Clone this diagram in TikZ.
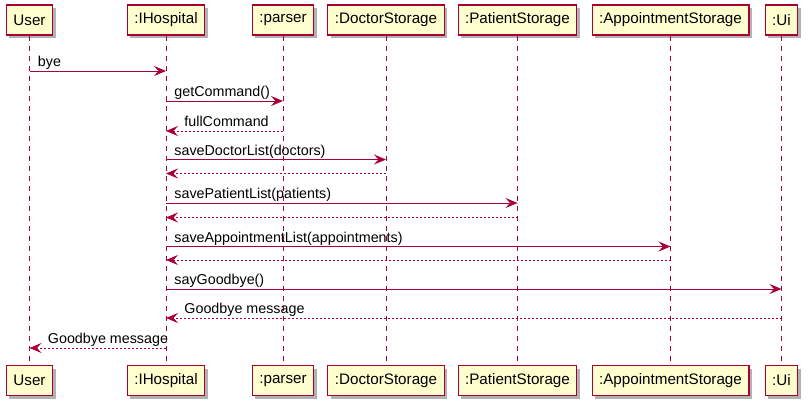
\documentclass[tikz,border=0pt]{standalone}
\usepackage{fontspec}
\setmainfont{Liberation Sans}
\usetikzlibrary{arrows.meta,shadows}
\definecolor{umlred}{HTML}{A80036}
\definecolor{umlfill}{HTML}{FEFECE}

\begin{document}
\begin{tikzpicture}[x=1pt,y=-1pt,
    actor/.style={draw=umlred,fill=umlfill,line width=1.2pt,
        minimum height=30pt,inner xsep=7pt,
        font={\fontsize{15.2}{18}\selectfont},
        drop shadow={shadow xshift=3pt,shadow yshift=-3pt,opacity=.3,fill=black}},
    life/.style={umlred,line width=.8pt,dash pattern=on 5pt off 5pt},
    msg/.style={umlred,line width=.9pt,
        -{Stealth[length=12pt,width=10pt,inset=4.5pt]}},
    reply/.style={msg,dash pattern=on 2pt off 2pt},
    lbl/.style={anchor=base west,inner sep=0pt,text=black,
        font={\fontsize{14.3}{16}\selectfont},xshift=8pt,yshift=4.5pt},
    rlbl/.style={lbl,xshift=10pt},
    ]
        \useasboundingbox (0,0) rectangle (809,408);
        % Participants (top)
        \node[actor] (user) at (29.5,20) {User};
        \node[actor] (hosp) at (166,20) {:IHospital};
        \node[actor] (parser) at (283,20) {:parser};
        \node[actor] (doctor) at (386,20) {:DoctorStorage};
        \node[actor] (patient) at (517.5,20) {:PatientStorage};
        \node[actor] (appt) at (670.5,20) {:AppointmentStorage};
        \node[actor] (ui) at (781.5,20) {:Ui};
        % Participants (bottom)
        \node[actor] (userB) at (29.5,380.5) {User};
        \node[actor] (hospB) at (166,380.5) {:IHospital};
        \node[actor] (parserB) at (283,380.5) {:parser};
        \node[actor] (doctorB) at (386,380.5) {:DoctorStorage};
        \node[actor] (patientB) at (517.5,380.5) {:PatientStorage};
        \node[actor] (apptB) at (670.5,380.5) {:AppointmentStorage};
        \node[actor] (uiB) at (781.5,380.5) {:Ui};
        % Lifelines
        \draw[life] (user) -- (userB);
        \draw[life] (hosp) -- (hospB);
        \draw[life] (parser) -- (parserB);
        \draw[life] (doctor) -- (doctorB);
        \draw[life] (patient) -- (patientB);
        \draw[life] (appt) -- (apptB);
        \draw[life] (ui) -- (uiB);

        % Message rows
        \coordinate (m1) at (0,71);
        \coordinate (m2) at (0,101);
        \coordinate (m3) at (0,131);
        \coordinate (m4) at (0,159.5);
        \coordinate (m5) at (0,173.5);
        \coordinate (m6) at (0,203);
        \coordinate (m7) at (0,217.5);
        \coordinate (m8) at (0,246.5);
        \coordinate (m9) at (0,260);
        \coordinate (m10) at (0,289);
        \coordinate (m11) at (0,318);
        \coordinate (m12) at (0,348);

        % Messages
        \draw[msg] (user |- m1) node[lbl] (l1) {bye} -- (hosp |- m1);
        \draw[msg] (hosp |- m2) node[lbl] (l2) {getCommand()} -- (parser |- m2);
        \draw[reply] (parser |- m3) -- (hosp |- m3) node[rlbl] (l3) {fullCommand};
        \draw[msg] (hosp |- m4) node[lbl] (l4) {saveDoctorList(doctors)} -- (doctor |- m4);
        \draw[reply] (doctor |- m5) -- (hosp |- m5);
        \draw[msg] (hosp |- m6) node[lbl] (l6) {savePatientList(patients)} -- (patient |- m6);
        \draw[reply] (patient |- m7) -- (hosp |- m7);
        \draw[msg] (hosp |- m8) node[lbl] (l8) {saveAppointmentList(appointments)} -- (appt |- m8);
        \draw[reply] (appt |- m9) -- (hosp |- m9);
        \draw[msg] (hosp |- m10) node[lbl] (l10) {sayGoodbye()} -- (ui |- m10);
        \draw[reply] (ui |- m11) -- (hosp |- m11) node[rlbl] (l11) {Goodbye message};
        \draw[reply] (hosp |- m12) -- (user |- m12) node[rlbl] (l12) {Goodbye message};
    \end{tikzpicture}
\end{document}
